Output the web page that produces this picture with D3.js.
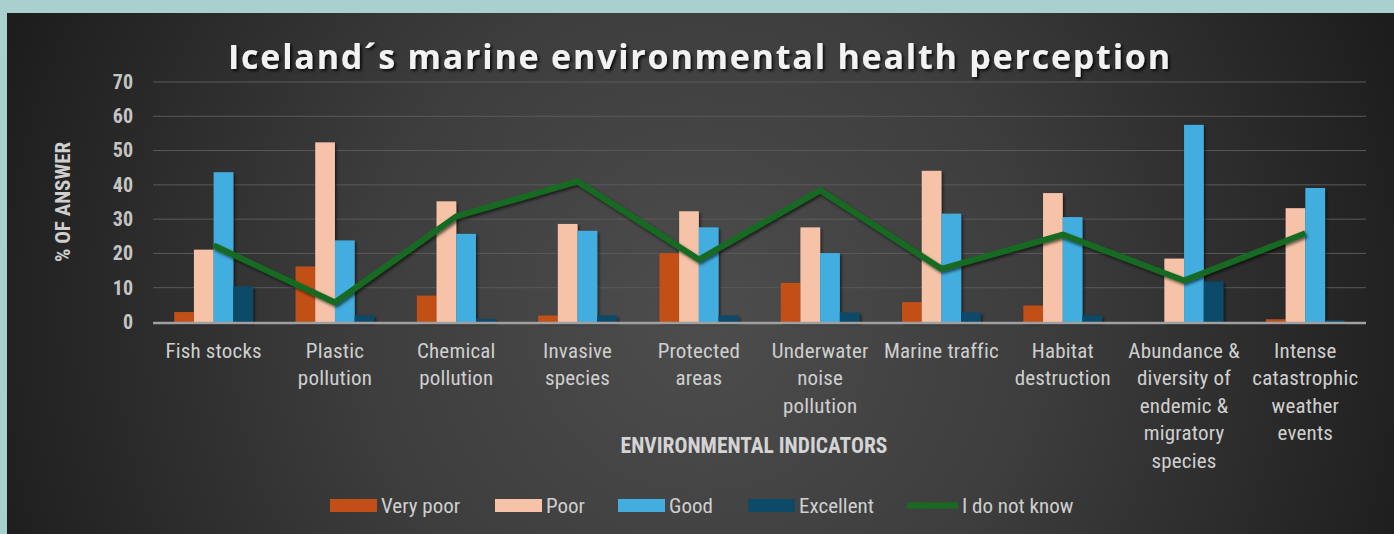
<!DOCTYPE html>
<html><head><meta charset="utf-8">
<script src="https://cdn.jsdelivr.net/npm/d3@7/dist/d3.min.js"></script>
<style>
html,body{margin:0;padding:0;background:#a9cfcf;}
svg{display:block;}
</style></head>
<body>
<svg id="c" width="1394" height="534"></svg>
<script>
const categories = ["Fish stocks","Plastic\npollution","Chemical\npollution","Invasive\nspecies","Protected\nareas","Underwater\nnoise\npollution","Marine traffic","Habitat\ndestruction","Abundance &\ndiversity of\nendemic &\nmigratory\nspecies","Intense\ncatastrophic\nweather\nevents"];
const seriesNames = ["Very poor","Poor","Good","Excellent"];
const veryPoor  = [2.9, 16.2, 7.7, 1.9, 20.1, 11.4, 5.8, 4.8, 0, 0.8];
const poor      = [21.1, 52.4, 35.2, 28.6, 32.3, 27.6, 44.1, 37.6, 18.5, 33.2];
const good      = [43.7, 23.8, 25.7, 26.6, 27.6, 20.1, 31.6, 30.6, 57.5, 39.1];
const excellent = [10.4, 1.9, 0.9, 1.9, 1.9, 2.8, 2.8, 1.9, 11.8, 0.5];
const lineName  = "I do not know";
const dontKnow  = [22.3, 5.7, 30.8, 41.0, 18.2, 38.4, 15.5, 25.5, 12.1, 25.9];
const yTicks = [0,10,20,30,40,50,60,70];
const title = "Iceland´s marine environmental health perception";
const yTitle = "% OF ANSWER";
const xTitle = "ENVIRONMENTAL INDICATORS";

const colors = ["#c24f17","#f6c3a8","#42aee0","#0c4a67"];
const lineColor = "#186a21";
const narrow = "'Roboto Condensed','Liberation Sans Narrow','Arial Narrow',sans-serif";

const svg = d3.select("#c");
const defs = svg.append("defs");
const rg = defs.append("radialGradient").attr("id","bg")
  .attr("gradientUnits","userSpaceOnUse").attr("cx",700).attr("cy",320).attr("r",760);
rg.append("stop").attr("offset","0").attr("stop-color","#4d4d4d");
rg.append("stop").attr("offset","0.45").attr("stop-color","#3d3d3d");
rg.append("stop").attr("offset","1").attr("stop-color","#1c1c1c");
const sh = defs.append("filter").attr("id","sh").attr("x","-20%").attr("y","-20%").attr("width","140%").attr("height","140%");
sh.append("feDropShadow").attr("dx",1.5).attr("dy",2).attr("stdDeviation",1.5).attr("flood-color","#000").attr("flood-opacity",0.6);
const tsh = defs.append("filter").attr("id","tsh").attr("x","-5%").attr("y","-30%").attr("width","110%").attr("height","160%");
tsh.append("feDropShadow").attr("dx",2).attr("dy",2).attr("stdDeviation",1.5).attr("flood-color","#000").attr("flood-opacity",0.8);

svg.append("rect").attr("x",7).attr("y",13).attr("width",1387).attr("height",521).attr("fill","url(#bg)");

const pLeft=153, pRight=1366, pTop=82, pBottom=322;
const x0 = d3.scaleBand().domain(d3.range(categories.length)).range([pLeft,pRight]).paddingInner(0.35).paddingOuter(0.175);
const x1 = d3.scaleBand().domain(seriesNames).range([0,x0.bandwidth()]);
const y = d3.scaleLinear().domain([0,70]).range([pBottom,pTop]);

// gridlines
svg.append("g").selectAll("line").data(yTicks.filter(d=>d>0)).join("line")
  .attr("x1",pLeft).attr("x2",pRight).attr("y1",d=>y(d)).attr("y2",d=>y(d))
  .attr("stroke","#5a5a5a").attr("stroke-width",1);

// y axis labels
const yAxis = svg.append("g").attr("transform",`translate(${133},0)`)
  .call(d3.axisLeft(y).tickValues(yTicks).tickSize(0).tickPadding(0));
yAxis.select(".domain").remove();
yAxis.selectAll("text").attr("fill","#c4c4c4").attr("font-family",narrow).attr("font-size",20).attr("font-weight","bold");

// bars
const series = [veryPoor,poor,good,excellent];
const bars = svg.append("g").attr("filter","url(#sh)");
series.forEach((vals,si)=>{
  bars.append("g").selectAll("rect").data(vals).join("rect")
    .attr("x",(d,i)=>x0(i)+x1(seriesNames[si]))
    .attr("width",x1.bandwidth())
    .attr("y",d=>y(d)).attr("height",d=>y(0)-y(d))
    .attr("fill",colors[si]);
});

// baseline
svg.append("line").attr("x1",pLeft).attr("x2",pRight).attr("y1",y(0)+1).attr("y2",y(0)+1)
  .attr("stroke","#a0a0a0").attr("stroke-width",2.5);

// line
const line = d3.line().x((d,i)=>x0(i)+x0.bandwidth()/2).y(d=>y(d));
svg.append("path").datum(dontKnow).attr("d",line).attr("fill","none")
  .attr("stroke",lineColor).attr("stroke-width",6).attr("stroke-linejoin","round").attr("filter","url(#sh)");

// x axis labels
const xl = svg.append("g");
categories.forEach((c,i)=>{
  const t = xl.append("text").attr("x",x0(i)+x0.bandwidth()/2).attr("y",358)
    .attr("text-anchor","middle").attr("fill","#cfcfcf").attr("font-family",narrow).attr("font-size",21).attr("letter-spacing",0.2);
  c.split("\n").forEach((ln,j)=>{
    t.append("tspan").attr("x",x0(i)+x0.bandwidth()/2).attr("dy",j===0?0:27.4).text(ln);
  });
});

// titles
svg.append("text").attr("x",699).attr("y",69).attr("text-anchor","middle")
  .attr("fill","#f2f2f2").attr("font-family","'Open Sans',sans-serif").attr("font-weight","bold")
  .attr("font-size",34).attr("textLength",942).attr("lengthAdjust","spacing").attr("filter","url(#tsh)").text(title);
svg.append("text").attr("transform","translate(70,202) rotate(-90)").attr("text-anchor","middle")
  .attr("fill","#cfcfcf").attr("font-family",narrow).attr("font-weight","bold").attr("font-size",21).text(yTitle);
svg.append("text").attr("x",754).attr("y",453).attr("text-anchor","middle")
  .attr("fill","#d4d4d4").attr("font-family",narrow).attr("font-weight","bold").attr("font-size",21.5).text(xTitle);

// legend
const legendItems = [
  {name:seriesNames[0],color:colors[0],type:"rect",x:330},
  {name:seriesNames[1],color:colors[1],type:"rect",x:495},
  {name:seriesNames[2],color:colors[2],type:"rect",x:618},
  {name:seriesNames[3],color:colors[3],type:"rect",x:748},
  {name:lineName,color:lineColor,type:"line",x:907}
];
const lg = svg.append("g");
legendItems.forEach(it=>{
  if(it.type==="rect"){
    lg.append("rect").attr("x",it.x).attr("y",499).attr("width",47).attr("height",13).attr("fill",it.color);
  } else {
    lg.append("line").attr("x1",it.x).attr("x2",it.x+51).attr("y1",505.5).attr("y2",505.5).attr("stroke",it.color).attr("stroke-width",6);
  }
  lg.append("text").attr("x",it.x+(it.type==="rect"?51:55)).attr("y",513)
    .attr("fill","#cfcfcf").attr("font-family",narrow).attr("font-size",21).text(it.name);
});
</script>
</body></html>
